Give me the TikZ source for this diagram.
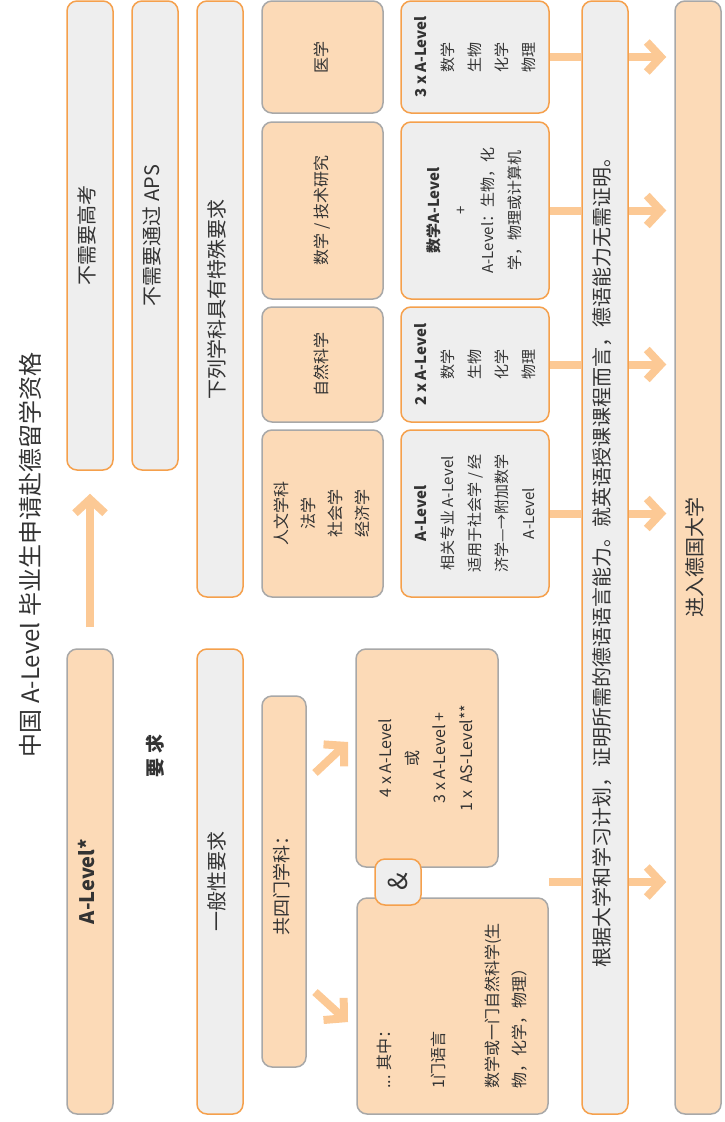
\documentclass[tikz,border=0pt]{standalone}
\usepackage{fontspec}
\setmainfont{Noto Sans CJK SC}
\usetikzlibrary{arrows.meta}
\definecolor{peach}{HTML}{FCDAB7}
\definecolor{boxgray}{HTML}{EEEEEE}
\definecolor{boxorange}{HTML}{F5A04C}
\definecolor{boxline}{HTML}{A8A8A8}
\definecolor{flowc}{HTML}{FCC995}
\definecolor{txt}{HTML}{333333}
\newcommand{\vt}[1]{\rotatebox{90}{\begin{tabular}{@{}c@{}}#1\end{tabular}}}
\newcommand{\vtl}[1]{\rotatebox{90}{\begin{tabular}{@{}l@{}}#1\end{tabular}}}
\newcommand{\fbig}{\fontsize{20}{24}\selectfont}
\newcommand{\fmid}{\fontsize{16}{27}\selectfont}
\newcommand{\fsml}{\fontsize{15}{27}\selectfont}
\tikzset{
	box/.style={rounded corners=10pt, line width=1.5pt, inner sep=0pt, text=txt, font=\fbig},
	graybox/.style={box, draw=boxorange, fill=boxgray},
	peachbox/.style={box, draw=boxline, fill=peach},
	flow/.style={draw=flowc, line width=8pt},
	flowarrow/.style={flow, -{Straight Barb[length=14pt, width=30pt]}}
}

\begin{document}
\begin{tikzpicture}[x=1pt, y=-1pt]
    \useasboundingbox (0,0) rectangle (725,1122);
    \node[text=txt, font=\fontsize{24}{28}\selectfont] (title) at (30,555) {\rotatebox{90}{中国 A-Level 毕业生申请赴德留学资格}};
    \node[text=txt, font=\bfseries\fontsize{19}{22}\selectfont] (reqlbl) at (155,756) {\rotatebox{90}{要 求}};
    % left columns
    \node[graybox, minimum width=46, minimum height=469] (gaokao) at (90,235.5) {\vt{不需要高考}};
    \node[graybox, minimum width=46, minimum height=469] (aps) at (155,235.5) {\vt{不需要通过 APS}};
    \node[graybox, minimum width=46, minimum height=596] (spec) at (220,299) {\vt{下列学科具有特殊要求}};
    \node[peachbox, minimum width=46, minimum height=465] (alev) at (90,881.5) {\vt{\textbf{A-Level*}}};
    \node[graybox, minimum width=46, minimum height=465] (gen) at (220,881.5) {\vt{一般性要求}};
    % subjects
    \node[peachbox, font=\fmid, minimum width=121, minimum height=112] (med) at (322.5,57) {\vt{医学}};
    \node[peachbox, font=\fmid, minimum width=121, minimum height=177] (math) at (322.5,210.5) {\vt{数学 / 技术研究}};
    \node[peachbox, font=\fmid, minimum width=121, minimum height=115] (nat) at (322.5,364.5) {\vt{自然科学}};
    \node[peachbox, font=\fmid, minimum width=121, minimum height=167] (hum) at (322.5,513.5) {\vt{人文学科\\法学\\社会学\\经济学}};
    \node[peachbox, font=\fontsize{18}{22}\selectfont, minimum width=44, minimum height=371] (four) at (284,881.5) {\vt{共四门学科：}};
    % required A-Levels
    \node[graybox, font=\fsml, minimum width=148, minimum height=112] (rmed) at (475,57) {\vt{\textbf{3 x A-Level}\\数学\\生物\\化学\\物理}};
    \node[graybox, font=\fsml, minimum width=148, minimum height=177] (rmath) at (475,210.5) {\vt{\textbf{数学A-Level}\\+\\A-Level：生物，化\\学，物理或计算机}};
    \node[graybox, font=\fsml, minimum width=148, minimum height=115] (rnat) at (475,364.5) {\vt{\textbf{2 x A-Level}\\数学\\生物\\化学\\物理}};
    \node[graybox, font=\fsml, minimum width=148, minimum height=167] (rhum) at (475,513.5) {\vt{\textbf{A-Level}\\相关专业 A-Level\\适用于社会学 / 经\\济学—→附加数学\\A-Level}};
    \node[peachbox, font=\fmid, minimum width=142, minimum height=218] (ora) at (427,758) {\vt{4 x A-Level\\或\\3 x A-Level +\\1 x \ AS-Level**}};
    \node[peachbox, font=\fmid, minimum width=191, minimum height=216] (lang) at (452.5,1006) {\vtl{... 其中：\\[27pt]1门语言\\[27pt]数学或一门自然科学(生\\物，化学，物理）}};
    \node[graybox, font=\fontsize{26}{30}\selectfont, minimum width=46, minimum height=46] (amp) at (398,882) {\rotatebox{90}{\&}};
    % right columns
    \node[graybox, minimum width=46, minimum height=1113] (german) at (605,557.5) {\vt{根据大学和学习计划，证明所需的德语语言能力。就英语授课课程而言，德语能力无需证明。}};
    \node[peachbox, minimum width=46, minimum height=1113] (uni) at (698,557.5) {\vt{进入德国大学}};
    % arrows
    \draw[flowarrow, shorten <=21pt, shorten >=23pt] (alev.north) -- (gaokao.south);
    \coordinate (up0) at (315,773);
    \coordinate (up1) at (348,742);
    \coordinate (dn0) at (315,992);
    \coordinate (dn1) at (348,1022);
    \draw[flowarrow] (up0) -- (up1);
    \draw[flowarrow] (dn0) -- (dn1);
    \foreach \b in {rmed, rmath, rnat, rhum}{
        \draw[flow] (\b.east) -- (\b.east -| german.west);
        \draw[flowarrow, shorten >=8pt] (\b.east -| german.east) -- (\b.east -| uni.west);
    }
    \draw[flow] (lang.east |- amp) -- (german.west |- amp);
    \draw[flowarrow, shorten >=8pt] (german.east |- amp) -- (uni.west |- amp);
\end{tikzpicture}
\end{document}
